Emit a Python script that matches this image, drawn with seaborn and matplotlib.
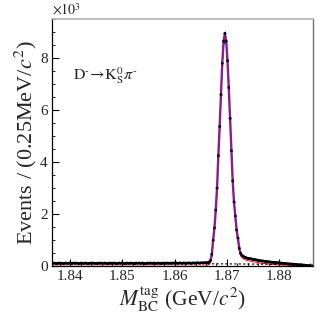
import numpy as np
import pandas as pd
import matplotlib
matplotlib.use("Agg")
import matplotlib.pyplot as plt
from matplotlib.ticker import MultipleLocator
import seaborn as sns

# ---------------- data (units of 10^3 events per 0.25 MeV/c^2) ----------------
mbc_low, mbc_high, bin_width = 1.8365, 1.8865, 0.00025

events = [
    # bins 0-117 : flat combinatorial region
    0.11, 0.12, 0.11, 0.10, 0.12, 0.11, 0.12, 0.11, 0.10, 0.11,
    0.12, 0.11, 0.11, 0.12, 0.10, 0.11, 0.12, 0.11, 0.12, 0.11,
    0.10, 0.11, 0.12, 0.11, 0.11, 0.12, 0.11, 0.10, 0.11, 0.12,
    0.11, 0.12, 0.11, 0.11, 0.10, 0.12, 0.11, 0.12, 0.11, 0.11,
    0.12, 0.11, 0.10, 0.11, 0.12, 0.11, 0.11, 0.12, 0.11, 0.10,
    0.11, 0.12, 0.11, 0.12, 0.11, 0.11, 0.10, 0.12, 0.11, 0.11,
    0.12, 0.11, 0.11, 0.10, 0.12, 0.11, 0.12, 0.11, 0.11, 0.12,
    0.11, 0.10, 0.11, 0.12, 0.11, 0.12, 0.11, 0.11, 0.12, 0.11,
    0.11, 0.12, 0.11, 0.10, 0.12, 0.11, 0.12, 0.11, 0.12, 0.11,
    0.12, 0.11, 0.12, 0.12, 0.11, 0.12, 0.11, 0.12, 0.12, 0.11,
    0.12, 0.12, 0.11, 0.12, 0.12, 0.12, 0.11, 0.12, 0.12, 0.12,
    0.12, 0.13, 0.12, 0.12, 0.13, 0.12, 0.13, 0.13,
    # bins 118-199 : signal peak and tail
    0.13, 0.14, 0.16, 0.22, 0.46, 1.00, 1.47, 2.16, 3.00, 4.25,
    5.37, 6.60, 7.80, 8.65, 8.95, 8.65, 7.90, 6.87, 5.68, 4.44,
    3.28, 2.47, 1.93, 1.39, 1.08, 0.69, 0.50, 0.42, 0.38, 0.35,
    0.33, 0.31, 0.30, 0.29, 0.28, 0.27, 0.26, 0.25, 0.24, 0.23,
    0.22, 0.21, 0.20, 0.20, 0.19, 0.18, 0.18, 0.17, 0.16, 0.16,
    0.15, 0.15, 0.14, 0.14, 0.13, 0.13, 0.12, 0.12, 0.11, 0.11,
    0.10, 0.10, 0.09, 0.09, 0.08, 0.08, 0.08, 0.07, 0.07, 0.06,
    0.06, 0.05, 0.05, 0.05, 0.04, 0.04, 0.03, 0.03, 0.02, 0.02,
    0.01, 0.01,
]

# signal component (red), zero below bin 118
signal_tail = [
    0.03, 0.05, 0.07, 0.13, 0.37, 0.91, 1.38, 2.07, 2.91, 4.16,
    5.28, 6.51, 7.71, 8.56, 8.86, 8.56, 7.81, 6.78, 5.59, 4.35,
    3.19, 2.38, 1.84, 1.30, 0.99, 0.60, 0.41, 0.33, 0.29, 0.26,
    0.24, 0.22, 0.21, 0.20, 0.19, 0.18, 0.17, 0.16, 0.15, 0.14,
    0.13, 0.12, 0.11, 0.11, 0.10, 0.10, 0.10, 0.09, 0.08, 0.08,
    0.07, 0.07, 0.06, 0.06, 0.05, 0.05, 0.05, 0.05, 0.04, 0.04,
    0.04, 0.04, 0.03, 0.03, 0.03, 0.03, 0.03, 0.02, 0.02, 0.02,
    0.02, 0.02, 0.02, 0.02, 0.01, 0.01, 0.01, 0.01, 0.01, 0.01,
    0.00, 0.00,
]

# background shape (black dashed), read at a few masses
bkg_mass = [1.8365, 1.845, 1.855, 1.865, 1.872, 1.878, 1.882, 1.8845, 1.8858, 1.8865]
bkg_val = [0.105, 0.103, 0.099, 0.093, 0.086, 0.074, 0.058, 0.040, 0.020, 0.0]

x_ticks = [1.84, 1.85, 1.86, 1.87, 1.88]
y_ticks = [0, 2, 4, 6, 8]

# ---------------- build tables ----------------
n_bins = len(events)
centers = mbc_low + bin_width * (np.arange(n_bins) + 0.5)
signal = [0.0] * (n_bins - len(signal_tail)) + signal_tail
df = pd.DataFrame({"mbc": centers, "events": events, "signal": signal})
df["err"] = np.sqrt(np.array(events) * 1000.0) / 1000.0
bkg = pd.DataFrame({"mbc": bkg_mass, "bkg": bkg_val})

# ---------------- style ----------------
sns.set_theme(style="ticks")
plt.rcParams["font.family"] = ["Liberation Serif", "DejaVu Serif"]
plt.rcParams["mathtext.fontset"] = "stix"

fig = plt.figure(figsize=(3.27, 3.18), dpi=100)
ax = fig.add_axes([0.159, 0.163, 0.798, 0.777])

ax.errorbar(df["mbc"], df["events"], yerr=df["err"], xerr=bin_width / 2,
            fmt="none", ecolor="black", elinewidth=0.5, capsize=0, zorder=2)
sns.lineplot(data=df, x="mbc", y="events", ax=ax, color="#0000ff", lw=1.7,
             alpha=0.8, estimator=None, sort=True, legend=False, zorder=3)
sns.lineplot(data=df, x="mbc", y="signal", ax=ax, color="#ff0000", lw=0.7,
             estimator=None, sort=True, legend=False, zorder=4)
sns.lineplot(data=bkg, x="mbc", y="bkg", ax=ax, color="black", lw=0.8,
             linestyle=(0, (2, 2)), estimator=None, legend=False, zorder=4)
sns.scatterplot(data=df, x="mbc", y="events", ax=ax, color="black", s=4,
                edgecolor="none", legend=False, zorder=5)

ax.set_xlim(mbc_low, mbc_high)
ax.set_ylim(0, 9.5)
ax.set_xticks(x_ticks)
ax.set_xticklabels([f"{v:.2f}" for v in x_ticks])
ax.set_yticks(y_ticks)
ax.set_yticklabels([str(v) for v in y_ticks])
ax.xaxis.set_minor_locator(MultipleLocator(0.002))
ax.yaxis.set_minor_locator(MultipleLocator(0.5))
ax.tick_params(axis="both", which="both", direction="in", top=False, right=False,
               labelsize=11, color="black")
ax.tick_params(axis="both", which="major", length=5, width=0.8, pad=3)
ax.tick_params(axis="both", which="minor", length=2.5, width=0.6)

for side in ["left", "bottom"]:
    ax.spines[side].set_color("black")
    ax.spines[side].set_linewidth(0.9)
ax.spines["top"].set_color("#b4b4b4")
ax.spines["top"].set_linewidth(1.2)
ax.spines["right"].set_color("#707070")
ax.spines["right"].set_linewidth(1.0)

ax.set_xlabel(r"$M_{\rm BC}^{\rm tag}$ (GeV/$c^{2}$)", fontsize=15.5, labelpad=1)
ax.set_ylabel(r"Events / (0.25MeV/$c^{2}$)", fontsize=16, labelpad=1)

ax.text(0.0, 1.005, r"$\times10^{3}$", transform=ax.transAxes, ha="left",
        va="bottom", fontsize=10)
ax.text(0.08, 0.77,
        "$\\mathrm{D}^{\u2010}\\!\\rightarrow\\!\\mathrm{K}_{\\mathrm{S}}^{0}\\pi^{\u2010}$",
        transform=ax.transAxes, ha="left", va="center", fontsize=11.5)

fig.savefig("out.png", dpi=100)
